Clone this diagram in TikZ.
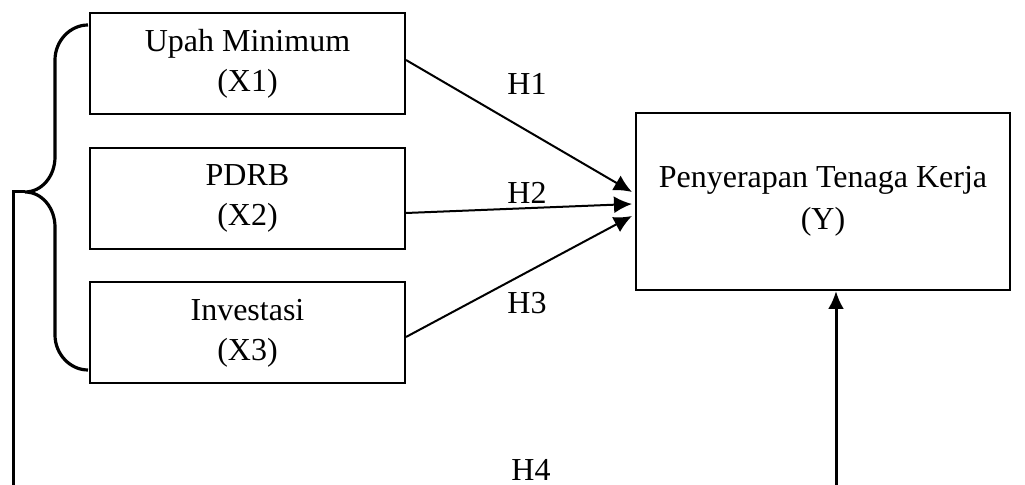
\documentclass[tikz,border=0pt]{standalone}
\usepackage{fontspec}
\setmainfont{Liberation Serif}
\usepackage{tikz}
\usetikzlibrary{arrows.meta,calc,positioning}
\tikzset{
  varbox/.style={draw,line width=1pt,minimum width=157.5pt,minimum height=50.5pt,align=center,font=\fontsize{16pt}{20pt}\selectfont},
  ybox/.style={draw,line width=1pt,minimum width=187pt,minimum height=88.5pt,align=center,font=\fontsize{16pt}{21pt}\selectfont},
  hypo/.style={line width=1pt,-{Latex[length=9pt,width=8.5pt]}},
  hlabel/.style={font=\fontsize{16pt}{20pt}\selectfont},
  bracel/.style={line width=1.6pt},
  link/.style={line width=1.5pt}
}
\begin{document}
\begin{tikzpicture}[x=0.5pt,y=-0.5pt]
\useasboundingbox (0,0) rectangle (1025,485);
% variables
\node[varbox] (x1) at (247.5,64) {Upah Minimum\\(X1)};
\node[varbox] (x2) at (247.5,198.5) {PDRB\\(X2)};
\node[varbox] (x3) at (247.5,333) {Investasi\\(X3)};
\node[ybox] (y) at (823,201.5) {Penyerapan Tenaga Kerja\\(Y)};
% partial effects
\draw[hypo] ($(x1.east)+(0,-4)$) -- ($(y.west)+(-3,-9.5)$);
\draw[hypo] ($(x2.east)+(0,14.5)$) -- ($(y.west)+(-3,2.5)$);
\draw[hypo] ($(x3.east)+(0,4)$) -- ($(y.west)+(-3,14.5)$);
\node[hlabel] (h1) at (527,84) {H1};
\node[hlabel] (h2) at (527,193) {H2};
\node[hlabel] (h3) at (527,303) {H3};
% joint effect
\draw[bracel] (88,25) .. controls (70,25) and (55,41) .. (55,60) -- (55,157)
  .. controls (55,176) and (42,192) .. (25,192) .. controls (42,192) and (55,208) .. (55,227)
  -- (55,335) .. controls (55,354) and (70,370) .. (88,370);
\coordinate (tip) at (25,192);
\coordinate (lowl) at (13,485);
\coordinate (lowr) at (836,485);
\draw[link] (tip) -- (lowl |- tip) -- (lowl);
\draw[link,-{Latex[length=9pt,width=8pt]}] (lowr) -- (lowr |- y.south);
\node[hlabel] (h4) at (531,470) {H4};
\end{tikzpicture}
\end{document}
